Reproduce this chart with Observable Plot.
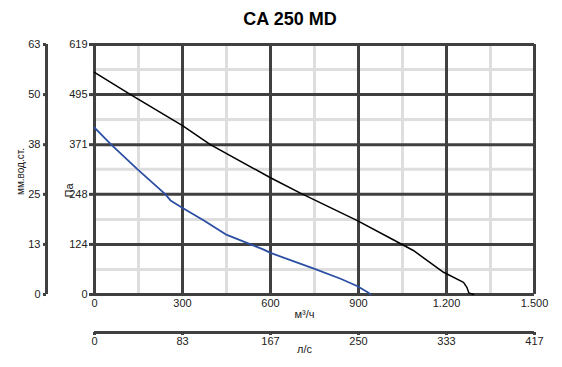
<!DOCTYPE html>
<html>
<head>
<meta charset="utf-8">
<script src="https://cdn.jsdelivr.net/npm/d3@7"></script>
<script src="https://cdn.jsdelivr.net/npm/@observablehq/plot@0.6"></script>
<style>
  html, body { margin: 0; padding: 0; background: #fff; }
  #title { width: 562px; height: 36px; box-sizing: border-box; padding-left: 18px; text-align: center;
           font: bold 18px "Liberation Sans", Arial, sans-serif; line-height: 39px; color: #000; overflow: visible; }
  #chart svg { overflow: visible; display: block; }
</style>
</head>
<body>
<div id="title">CA 250 MD</div>
<div id="chart"></div>
<script>
const flowTicks = [0, 300, 600, 900, 1200, 1500];
const flowLabels = ["0", "300", "600", "900", "1.200", "1.500"];
const lsLabels = ["0", "83", "167", "250", "333", "417"];
const flowMinor = [150, 450, 750, 1050, 1350];
const paTicks = [0, 124, 248, 371, 495, 619];
const mmLabels = ["0", "13", "25", "38", "50", "63"];
const paMinor = [62, 186, 310, 433, 557];

const blackFlow = [0, 123, 300, 395, 600, 702, 896, 1020, 1087, 1190, 1258, 1270, 1276, 1292];
const blackPa   = [550, 495, 418, 371, 289, 251, 183, 135, 109, 55, 30, 17, 4, 0];
const blueFlow  = [0, 57, 145, 242, 259, 299, 373, 447, 577, 600, 748, 839, 895, 930, 941];
const bluePa    = [413, 371, 311, 248, 233, 215, 183, 149, 111, 103, 64, 39, 21, 6, 0];

const black = blackFlow.map((f, i) => ({flow: f, pa: blackPa[i]}));
const blue = blueFlow.map((f, i) => ({flow: f, pa: bluePa[i]}));

const dark = "#404040", light = "#dedede", txt = "#222";

const chart = Plot.plot({
  width: 562, height: 331,
  marginTop: 8, marginLeft: 94, marginRight: 28, marginBottom: 73,
  x: {domain: [0, 1500]},
  y: {domain: [0, 619]},
  style: {fontFamily: "'Liberation Sans', Arial, sans-serif", fontSize: "11px", color: txt, background: "#fff"},
  marks: [
    Plot.ruleX(flowMinor, {stroke: light, strokeWidth: 3}),
    Plot.ruleY(paMinor, {stroke: light, strokeWidth: 3}),
    Plot.ruleX(flowTicks, {stroke: dark, strokeWidth: 3}),
    Plot.ruleY(paTicks, {stroke: dark, strokeWidth: 3}),
    Plot.axisY({ticks: paTicks, tickFormat: d => String(d), tickSize: 5, tickPadding: 2, stroke: dark, strokeWidth: 3, fill: txt, label: null}),
    Plot.ruleX([0], {y1: 0, y2: 619, dx: -48, stroke: dark, strokeWidth: 3}),
    Plot.axisY({ticks: paTicks, tickFormat: d => mmLabels[paTicks.indexOf(d)], tickSize: 3, tickPadding: 3, stroke: dark, strokeWidth: 3, fill: txt, dx: -48, label: null}),
    Plot.axisX({ticks: flowTicks, tickFormat: d => flowLabels[flowTicks.indexOf(d)], tickSize: 0, tickPadding: 5, fill: txt, label: null}),
    Plot.ruleY([0], {x1: 0, x2: 1500, dy: 38, stroke: dark, strokeWidth: 3}),
    Plot.axisX({ticks: flowTicks, tickFormat: d => lsLabels[flowTicks.indexOf(d)], tickSize: 3, tickPadding: 2, stroke: dark, strokeWidth: 3, fill: txt, dy: 38, label: null}),
    Plot.text(["м³/ч"], {frameAnchor: "bottom", dy: 23, dx: -10, fill: txt}),
    Plot.text(["л/с"], {frameAnchor: "bottom", dy: 58, dx: -10, fill: txt}),
    Plot.text(["Па"], {frameAnchor: "left", textAnchor: "middle", dx: -25, dy: 21, rotate: -90, fill: txt}),
    Plot.text(["мм.вод.ст."], {frameAnchor: "left", textAnchor: "middle", dx: -74, dy: 2, rotate: -90, fontSize: 10, fill: txt}),
    Plot.line(black, {x: "flow", y: "pa", stroke: "#000", strokeWidth: 1.5}),
    Plot.line(blue, {x: "flow", y: "pa", stroke: "#2c4fa3", strokeWidth: 1.8})
  ]
});
document.getElementById("chart").appendChild(chart);
</script>
</body>
</html>
